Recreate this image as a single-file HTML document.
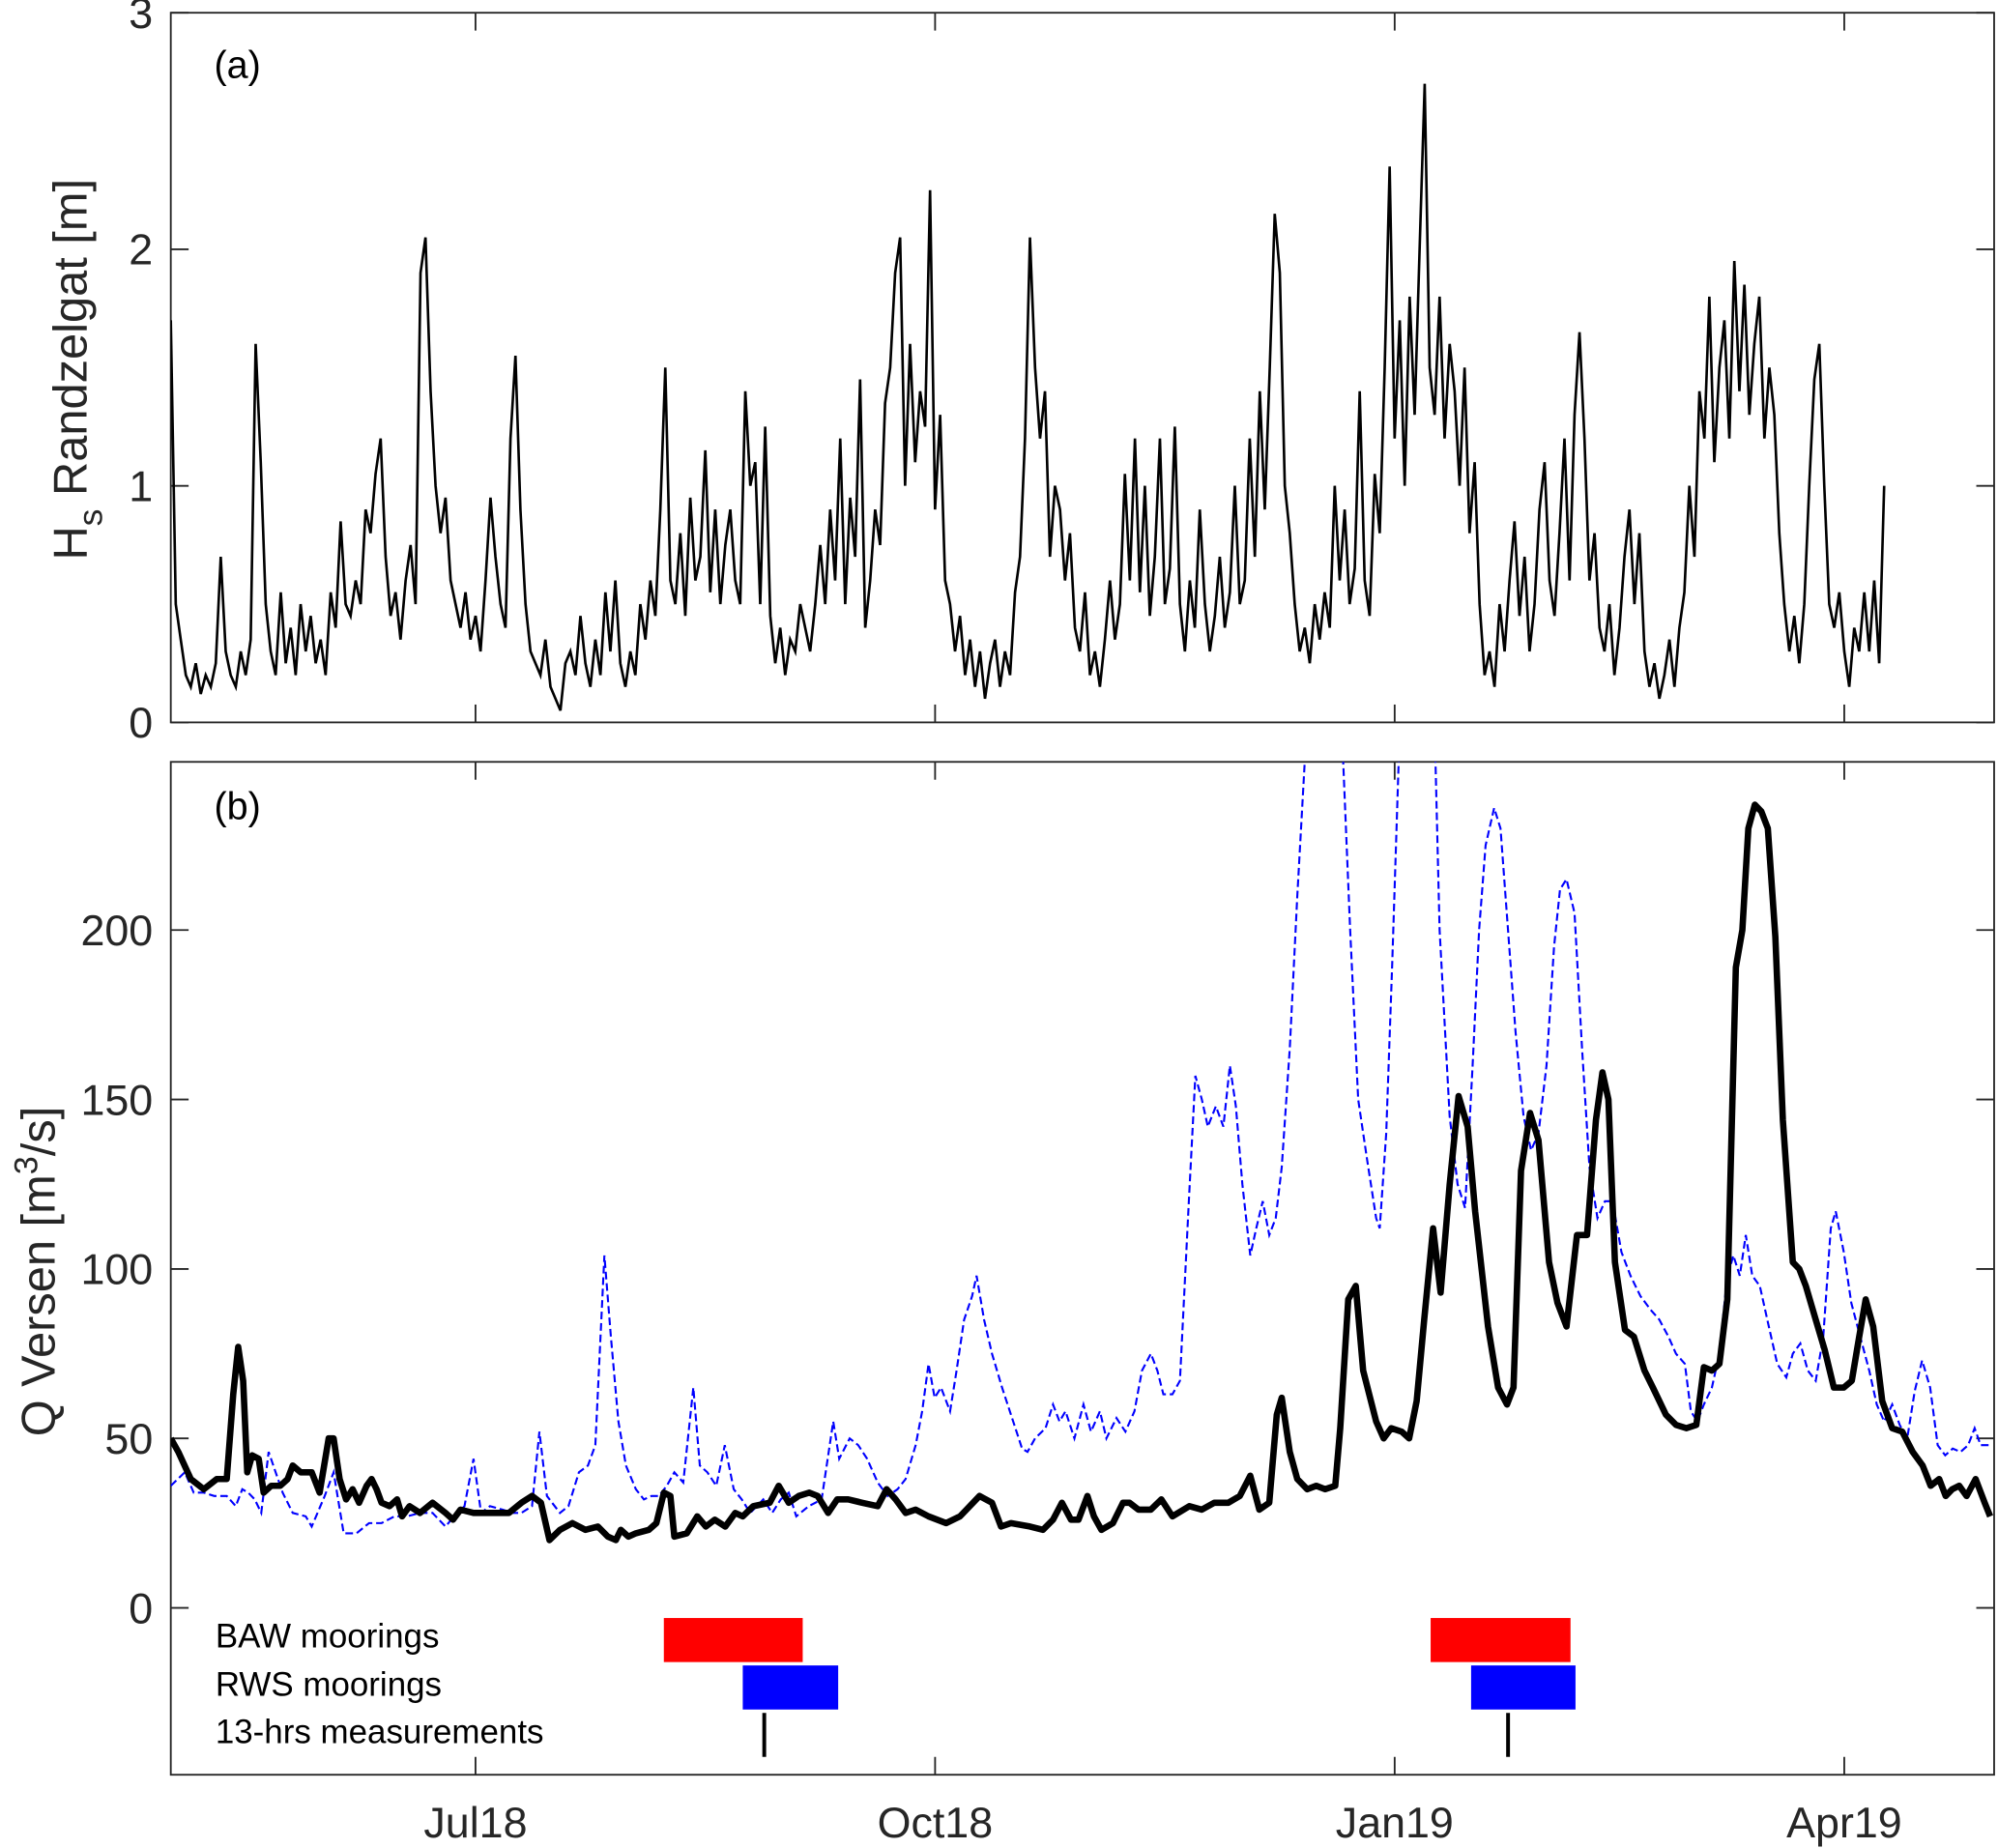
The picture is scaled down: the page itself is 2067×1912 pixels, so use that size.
<!DOCTYPE html>
<html><head><meta charset="utf-8"><style>
html,body{margin:0;padding:0;background:#fff;}
svg{display:block;font-family:"Liberation Sans",Arial,sans-serif;}
</style></head><body>
<svg id="chart" width="2067" height="1912" viewBox="0 0 1568 1450.5" xmlns="http://www.w3.org/2000/svg">
<defs>
<clipPath id="clipA"><rect x="134" y="10" width="1431" height="557"/></clipPath>
<clipPath id="clipB"><rect x="134" y="598" width="1431" height="795"/></clipPath>
</defs>
<g id="root"></g>
</svg>
<script>
// ---- data ----
// x axis: days since 1 May 2018
const xTickDays = [61, 153, 245, 335];
const xTickLabels = ["Jul18", "Oct18", "Jan19", "Apr19"];
// panel (a): Hs, one value per day starting day 0
const hsValues = [
1.7,0.5,0.35,0.2,0.15,0.25,0.12,0.2,0.15,0.25,
0.7,0.3,0.2,0.15,0.3,0.2,0.35,1.6,1.1,0.5,
0.3,0.2,0.55,0.25,0.4,0.2,0.5,0.3,0.45,0.25,
0.35,0.2,0.55,0.4,0.85,0.5,0.45,0.6,0.5,0.9,
0.8,1.05,1.2,0.7,0.45,0.55,0.35,0.6,0.75,0.5,
1.9,2.05,1.4,1.0,0.8,0.95,0.6,0.5,0.4,0.55,
0.35,0.45,0.3,0.6,0.95,0.7,0.5,0.4,1.2,1.55,
0.9,0.5,0.3,0.25,0.2,0.35,0.15,0.1,0.05,0.25,
0.3,0.2,0.45,0.25,0.15,0.35,0.2,0.55,0.3,0.6,
0.25,0.15,0.3,0.2,0.5,0.35,0.6,0.45,0.9,1.5,
0.6,0.5,0.8,0.45,0.95,0.6,0.7,1.15,0.55,0.9,
0.5,0.75,0.9,0.6,0.5,1.4,1.0,1.1,0.5,1.25,
0.45,0.25,0.4,0.2,0.35,0.3,0.5,0.4,0.3,0.5,
0.75,0.5,0.9,0.6,1.2,0.5,0.95,0.7,1.45,0.4,
0.6,0.9,0.75,1.35,1.5,1.9,2.05,1.0,1.6,1.1,
1.4,1.25,2.25,0.9,1.3,0.6,0.5,0.3,0.45,0.2,
0.35,0.15,0.3,0.1,0.25,0.35,0.15,0.3,0.2,0.55,
0.7,1.2,2.05,1.5,1.2,1.4,0.7,1.0,0.9,0.6,
0.8,0.4,0.3,0.55,0.2,0.3,0.15,0.35,0.6,0.35,
0.5,1.05,0.6,1.2,0.55,1.0,0.45,0.7,1.2,0.5,
0.65,1.25,0.5,0.3,0.6,0.4,0.9,0.5,0.3,0.45,
0.7,0.4,0.55,1.0,0.5,0.6,1.2,0.7,1.4,0.9,
1.5,2.15,1.9,1.0,0.8,0.5,0.3,0.4,0.25,0.5,
0.35,0.55,0.4,1.0,0.6,0.9,0.5,0.65,1.4,0.6,
0.45,1.05,0.8,1.5,2.35,1.2,1.7,1.0,1.8,1.3,
2.0,2.7,1.5,1.3,1.8,1.2,1.6,1.4,1.0,1.5,
0.8,1.1,0.5,0.2,0.3,0.15,0.5,0.3,0.6,0.85,
0.45,0.7,0.3,0.5,0.9,1.1,0.6,0.45,0.8,1.2,
0.6,1.3,1.65,1.2,0.6,0.8,0.4,0.3,0.5,0.2,
0.4,0.7,0.9,0.5,0.8,0.3,0.15,0.25,0.1,0.2,
0.35,0.15,0.4,0.55,1.0,0.7,1.4,1.2,1.8,1.1,
1.5,1.7,1.2,1.95,1.4,1.85,1.3,1.6,1.8,1.2,
1.5,1.3,0.8,0.5,0.3,0.45,0.25,0.5,1.0,1.45,
1.6,1.0,0.5,0.4,0.55,0.3,0.15,0.4,0.3,0.55,
0.3,0.6,0.25,1.0];
const hsTicks = [0,1,2,3];
// panel (b): Q Versen (black)
const qDays = [0,1.5,4,6.6,9.2,11.2,12.5,13.5,14.5,15.3,16.3,17.6,18.6,20.1,21.9,23.4,24.4,26,28.2,29.8,31.6,32.6,33.8,35.1,36.4,37.7,39.2,40.2,41.2,42.2,43.8,45.3,46.3,47.8,49.9,52.4,55,56.5,58,60.6,63.9,67.7,70.2,72.3,74.1,75.8,77.9,80.4,83,85.5,87.5,89.1,90.1,91.6,93.1,95.7,97.2,98.7,100,100.8,103.3,105.4,107.1,108.9,111,113,114.5,116.6,119.9,121.7,123.7,125.7,127.8,129.5,131.6,133.4,135.6,138.4,141.5,143.3,145.1,147.1,149.1,151.7,155.2,158,159.3,161.9,164.4,166.2,168.2,172,174.6,176.6,178.4,180.2,181.7,183.5,184.8,186.3,188.6,190.6,191.9,193.7,196.2,198.3,200.5,203.9,206.4,208.9,211.7,214,216.1,217.9,219.9,221.4,222.4,224,225.5,227.5,229.3,231.1,233.1,234.1,235.7,237.2,238.7,241.3,242.8,244.3,246.4,247.9,249.4,250.9,252.7,254.2,256,257.8,259.6,261.1,263.7,265.7,267.5,268.8,270.3,272.1,273.8,275.9,277.6,279.4,281.5,283.5,285.3,286.6,287.8,289.1,291.1,292.9,295,296.7,299.3,301.3,303.4,305.4,306.9,308.5,310,311.6,313.3,314.6,315.8,317.1,318.4,319.7,321.2,322.7,324.7,326,327.3,329.3,331.1,332.9,334.9,336.5,338,339.3,340.8,342.6,344.6,346.6,348.7,350.7,352.3,354,355.3,356.6,358,359.5,361.3,363.1,364.2];
const qValues = [50,46,38,35,38,38,63,77,67,40,45,44,34,36,36,38,42,40,40,34,50,50,38,32,35,31,36,38,35,31,30,32,27,30,28,31,28,26,29,28,28,28,31,33,31,20,23,25,23,24,21,20,23,21,22,23,25,34,33,21,22,27,24,26,24,28,27,30,31,36,31,33,34,33,28,32,32,31,30,35,32,28,29,27,25,27,29,33,31,24,25,24,23,26,31,26,26,33,27,23,25,31,31,29,29,32,27,30,29,31,31,33,39,29,31,57,62,46,38,35,36,35,36,53,91,95,70,55,50,53,52,50,61,85,112,93,125,151,142,117,83,65,60,65,129,146,138,102,90,83,110,110,144,158,150,102,82,80,70,65,57,54,53,54,71,70,72,91,189,200,230,237,235,230,198,144,102,100,95,85,76,65,65,67,80,91,83,61,53,52,46,42,36,38,33,35,36,33,38,31,27];
// panel (b): dashed blue series
const bDays = [0,2.8,4.6,6.6,8.7,11.2,13,14.3,15.5,16.8,18.1,19.6,22.4,24.4,27,28.2,30.8,32.6,34.6,37.2,39.7,42.2,44.8,47.3,49.9,52.4,55,56.7,58.8,60.6,62.1,63.9,66.4,68.5,70.2,72.3,73.8,75.3,77.9,79.6,81.7,83.5,85,86.8,88.1,89.6,91.1,93.1,94.7,96.2,97.7,99.3,100.8,102.6,104.6,105.9,107.4,109.2,110.9,112.7,114.3,116,118.6,120.4,122.1,123.7,125.2,127.7,130.3,132.6,133.8,135.9,137.6,139.4,141.5,143.5,145.5,147.1,149.1,150.4,151.7,152.9,154.2,156,157.3,158.8,160.4,161.3,162.8,164.4,166.4,168.2,170.4,171.5,173,175.1,176.6,177.9,179.1,180.9,182.7,184.2,186,187.3,189.3,191.1,192.9,194.4,196.2,197.5,198.7,200.5,202,203.8,205.1,206.4,207.6,209.2,210.7,212,213.2,214.5,216.1,217.3,218.6,219.9,221.2,222.4,224,225.5,227,228.5,234.4,236.1,237.7,239.5,241.3,242,243.3,244.5,245.8,246.8,253,254,256,257.6,259.1,260.6,261.9,263.2,264.9,266.2,267.7,269.2,270.8,272.3,273.8,275.4,276.9,278.1,279.4,281,282.5,284,285.6,287.1,288.6,290.4,292.2,294.2,296.2,298,299.8,301.3,303.1,304.3,305.6,306.9,308.5,310,311.5,312.8,314.1,315.3,316.6,318.1,319.6,321.6,323.4,324.7,326.2,327.7,329.3,330.8,332.3,333.3,334.9,336.4,338.2,340,341.5,343,344.6,346.1,347.6,349.1,350.6,352.2,353.7,355.2,356.7,358.3,359.8,361.1,362.3,364.1];
const bValues = [36,40,34,34,33,33,30,35,34,32,28,46,34,28,27,24,33,40,22,22,25,25,27,27,28,28,24,27,30,44,28,30,29,28,28,30,52,33,28,30,40,42,48,104,80,55,42,35,32,33,33,36,40,37,65,42,40,36,48,35,32,28,32,28,32,34,27,30,32,55,44,50,48,44,37,33,35,38,48,58,72,62,65,58,70,85,92,98,85,75,65,57,47,46,50,53,60,55,58,50,60,52,58,50,56,52,58,70,75,70,63,63,67,120,157,150,142,148,142,160,148,125,104,112,120,110,115,130,165,210,250,280,260,200,150,132,115,112,140,190,250,280,260,200,145,125,118,160,200,225,236,230,200,170,145,135,140,160,195,212,215,205,165,130,115,120,120,105,98,92,88,85,80,75,72,58,55,60,65,75,97,104,98,110,98,95,85,72,68,75,78,70,67,80,112,117,105,90,80,70,60,55,60,54,50,64,73,65,48,45,47,46,48,53,48,48];
const qTicks = [0,50,100,150,200];
// campaign bars
const bawStart = [98.7, 252.2], bawEnd = [126.5, 280.2];
const rwsStart = [114.5, 260.3], rwsEnd = [133.6, 281.2];
const hrs13Days = [118.8, 267.7];

// ---- axes ----
const L=134, R=1565;
const x = d => L + (d/365)*(R-L);
const yA = v => 567 - v/3*(567-10);
const yB = v => 1262 - v*(133/50);
const NS="http://www.w3.org/2000/svg";
const root=document.getElementById('root');
function el(tag, attrs, parent){const e=document.createElementNS(NS,tag);for(const k in attrs)e.setAttribute(k,attrs[k]);(parent||root).appendChild(e);return e;}

function drawFrame(top,bottom,yfun,ticks,panel){
  const g=el('g',{});
  
  
  const fr=el('rect',{x:L,y:top,width:R-L,height:bottom-top,fill:'none',stroke:'#262626','stroke-width':1.4},g);
  
  
  xTickDays.forEach((d,i)=>{
    el('line',{x1:x(d),x2:x(d),y1:bottom,y2:bottom-14,stroke:'#262626','stroke-width':1.4},g);
    el('line',{x1:x(d),x2:x(d),y1:top,y2:top+14,stroke:'#262626','stroke-width':1.4},g);
  });
  ticks.forEach(v=>{
    const yy=yfun(v);
    el('line',{x1:L,x2:L+14,y1:yy,y2:yy,stroke:'#262626','stroke-width':1.4},g);
    el('line',{x1:R,x2:R-14,y1:yy,y2:yy,stroke:'#262626','stroke-width':1.4},g);
    const t=el('text',{x:L-14,y:yy+12,'text-anchor':'end','font-size':34,fill:'#262626'},g);
    t.textContent=v;
    
    
  });
}
drawFrame(10,567,yA,hsTicks,'panel-a');
drawFrame(598,1393,yB,qTicks,'panel-b');

// x tick labels
xTickDays.forEach((d,i)=>{
  const t=el('text',{x:x(d),y:1442,'text-anchor':'middle','font-size':34,fill:'#262626'});
  t.textContent=xTickLabels[i];
  
  
});

// Hs line
let dA=hsValues.map((v,i)=>(i?'L':'M')+x(i).toFixed(1)+','+yA(v).toFixed(1)).join('');
const hs=el('path',{d:dA,fill:'none',stroke:'#000','stroke-width':2,'stroke-linejoin':'miter','clip-path':'url(#clipA)'});



// blue dashed
let dB=bValues.map((v,i)=>(i?'L':'M')+x(bDays[i]).toFixed(1)+','+yB(v).toFixed(1)).join('');
const bl=el('path',{d:dB,fill:'none',stroke:'#0000ff','stroke-width':1.6,'stroke-dasharray':'6,3','clip-path':'url(#clipB)'});



// black Q
let dQ=qValues.map((v,i)=>(i?'L':'M')+x(qDays[i]).toFixed(1)+','+yB(v).toFixed(1)).join('');
const ql=el('path',{d:dQ,fill:'none',stroke:'#000','stroke-width':5,'stroke-linejoin':'round','clip-path':'url(#clipB)'});



// campaign bars
bawStart.forEach((s,i)=>{
  const r=el('rect',{x:x(s),y:yB(-3),width:x(bawEnd[i])-x(s),height:yB(-16)-yB(-3),fill:'#ff0000'});
  
  
});
rwsStart.forEach((s,i)=>{
  const r=el('rect',{x:x(s),y:yB(-17),width:x(rwsEnd[i])-x(s),height:yB(-30)-yB(-17),fill:'#0000ff'});
  
  
});
hrs13Days.forEach(d=>{
  const l=el('line',{x1:x(d),x2:x(d),y1:yB(-31),y2:yB(-44),stroke:'#000','stroke-width':3});
  
  
});
</script>
<svg style="position:absolute;left:0;top:0" width="2067" height="1912" viewBox="0 0 1568 1450.5" xmlns="http://www.w3.org/2000/svg" font-family="Liberation Sans, Arial, sans-serif">
<text x="168" y="61" font-size="30" fill="#000">(a)</text>
<text x="168" y="643" font-size="30" fill="#000">(b)</text>
<text transform="translate(68,290) rotate(-90)" text-anchor="middle" font-size="37" fill="#262626">H<tspan font-size="27" dy="12">s</tspan><tspan dy="-12"> Randzelgat [m]</tspan></text>
<text transform="translate(43,998) rotate(-90)" text-anchor="middle" font-size="37" fill="#262626">Q Versen [m<tspan font-size="26" dy="-14">3</tspan><tspan dy="14">/s]</tspan></text>
<text x="169" y="1293" font-size="26.5" fill="#000">BAW moorings</text>
<text x="169" y="1331" font-size="26.5" fill="#000">RWS moorings</text>
<text x="169" y="1368" font-size="26.5" fill="#000">13-hrs measurements</text>
</svg>
</body></html>
